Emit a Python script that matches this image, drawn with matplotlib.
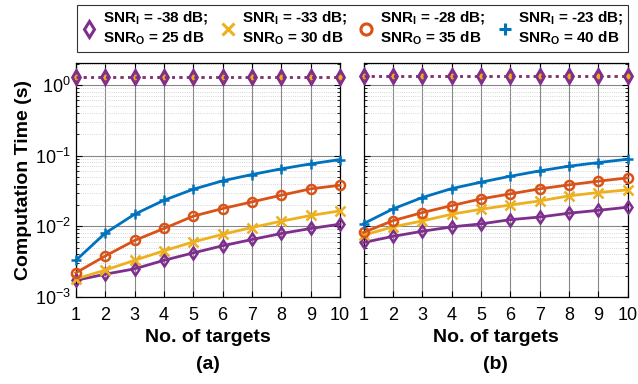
import numpy as np
import matplotlib
matplotlib.use("Agg")
import matplotlib.pyplot as plt
from matplotlib.lines import Line2D

plt.rcParams['font.family'] = ['Liberation Sans', 'DejaVu Sans']
plt.rcParams['mathtext.fontset'] = 'custom'
plt.rcParams['mathtext.rm'] = 'Liberation Sans'
plt.rcParams['mathtext.bf'] = 'Liberation Sans:bold'

# data
targets = [1, 2, 3, 4, 5, 6, 7, 8, 9, 10]

labels = [r"SNR$_{\mathbf{I}}$ = -38 dB;" + "\n" + r"SNR$_{\mathbf{O}}$ = 25 dB",
          r"SNR$_{\mathbf{I}}$ = -33 dB;" + "\n" + r"SNR$_{\mathbf{O}}$ = 30 dB",
          r"SNR$_{\mathbf{I}}$ = -28 dB;" + "\n" + r"SNR$_{\mathbf{O}}$ = 35 dB",
          r"SNR$_{\mathbf{I}}$ = -23 dB;" + "\n" + r"SNR$_{\mathbf{O}}$ = 40 dB"]

# panel (a)
a_snr38 = [0.00172, 0.0021, 0.0025, 0.0033, 0.0042, 0.0053, 0.0065, 0.0079, 0.0093, 0.0107]
a_snr33 = [0.0018, 0.0024, 0.0033, 0.0045, 0.0060, 0.0077, 0.0096, 0.0118, 0.0142, 0.0165]
a_snr28 = [0.0022, 0.0038, 0.0063, 0.0093, 0.0139, 0.0178, 0.0221, 0.0275, 0.0338, 0.038]
a_snr23 = [0.0033, 0.0080, 0.0148, 0.0233, 0.0334, 0.0439, 0.0539, 0.0648, 0.0762, 0.0877]
a_base = [1.27] * 10

# panel (b)
b_snr38 = [0.0059, 0.0072, 0.0085, 0.0098, 0.0108, 0.0124, 0.0135, 0.0153, 0.0168, 0.0186]
b_snr33 = [0.0075, 0.0098, 0.0119, 0.0148, 0.0174, 0.0200, 0.0228, 0.0269, 0.0300, 0.0327]
b_snr28 = [0.0082, 0.0120, 0.0156, 0.0196, 0.0244, 0.0287, 0.0338, 0.0385, 0.0434, 0.0483]
b_snr23 = [0.0109, 0.0176, 0.0255, 0.0341, 0.0420, 0.0510, 0.0607, 0.0707, 0.0796, 0.0887]
b_base = [1.32] * 10

colors = ['#7E2F8E', '#EDB120', '#D95319', '#0072BD']
markers = ['d', 'x', 'o', '+']
base_sizes = [7, 4.5, 4.5, 4.5]

fig = plt.figure(figsize=(6.38, 3.84), dpi=100)
ax1 = fig.add_axes([0.119, 0.2266, 0.414, 0.61])
ax2 = fig.add_axes([0.570, 0.2266, 0.414, 0.61])

panels = [(ax1, [a_snr38, a_snr33, a_snr28, a_snr23], a_base, '(a)'),
          (ax2, [b_snr38, b_snr33, b_snr28, b_snr23], b_base, '(b)')]

for ax, series, base, tag in panels:
    # dotted baseline curves (all overlapping near 1 s)
    for i in [3, 2, 1, 0]:
        ax.plot(targets, base, linestyle=':', color=colors[i], linewidth=2,
                marker=markers[i], markersize=base_sizes[i], markerfacecolor='none',
                markeredgewidth=2, clip_on=False, zorder=3)
    for i in [0, 1, 2, 3]:
        ax.plot(targets, series[i], linestyle='-', color=colors[i], linewidth=2,
                marker=markers[i], markersize=6.5, markerfacecolor='none',
                markeredgewidth=1.8, clip_on=False, zorder=4)
    ax.set_yscale('log')
    ax.set_ylim(1e-3, 2.05)
    ax.set_xlim(1, 10)
    ax.set_xticks(targets)
    ax.grid(True, which='major', color='#555555', linewidth=0.8, alpha=0.7)
    ax.grid(True, which='minor', color='#bbbbbb', linewidth=0.6, linestyle=':', alpha=0.8)
    ax.tick_params(which='both', direction='in', top=True, right=True, labelsize=13)
    ax.tick_params(which='major', length=4)
    ax.tick_params(which='minor', length=2)
    ax.tick_params(axis='x', pad=7)
    ax.set_xlabel('No. of targets' + '\n' + tag, fontsize=14, fontweight='bold',
                  linespacing=1.75, labelpad=4)
    for sp in ax.spines.values():
        sp.set_linewidth(0.9)

ax1.set_ylabel('Computation Time (s)', fontsize=14, fontweight='bold', labelpad=2)
ax2.tick_params(which='both', labelleft=False)

handles = [Line2D([], [], linestyle='none', marker=markers[i], color=colors[i],
                  markersize=8, markerfacecolor='none', markeredgewidth=2.2)
           for i in range(4)]
leg = fig.legend(handles, labels, loc='upper left', bbox_to_anchor=(0.121, 0.875, 0.864, 0.112),
                 mode='expand', ncol=4, prop={'weight': 'bold', 'size': 11},
                 frameon=True, fancybox=False, edgecolor='black', handlelength=1.0,
                 handletextpad=0.4, columnspacing=0.8, borderpad=0.3, borderaxespad=0)
leg.get_frame().set_linewidth(0.8)

fig.savefig('out.png', dpi=100)
